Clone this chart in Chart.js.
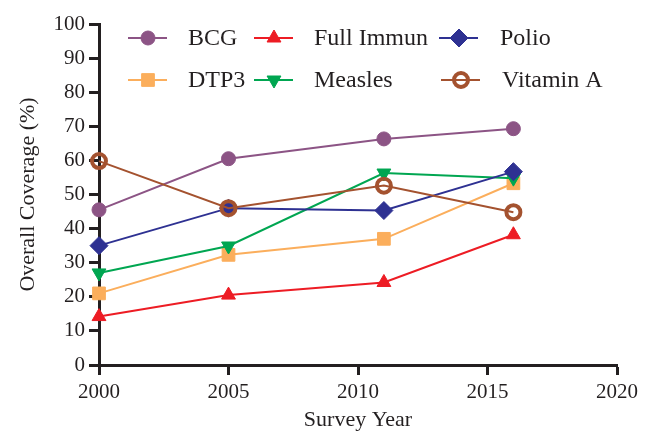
<!DOCTYPE html>
<html><head><meta charset="utf-8">
<script src="https://cdn.jsdelivr.net/npm/chart.js@4"></script>
<style>html,body{margin:0;padding:0;background:#fff}</style>
</head><body>
<canvas id="c" width="653" height="437" style="display:block;width:653px;height:437px"></canvas>
<script>
const years = [2000, 2005, 2011, 2016];
const xTicks = [2000, 2005, 2010, 2015, 2020];
const yTicks = [0, 10, 20, 30, 40, 50, 60, 70, 80, 90, 100];
const bcg = [45.5, 60.5, 66.3, 69.3];
const fullImmun = [14.2, 20.5, 24.2, 38.2];
const polio = [35.0, 46.0, 45.3, 56.7];
const dtp3 = [21.0, 32.3, 37.0, 53.3];
const measles = [27.0, 34.9, 56.3, 54.8];
const vitaminA = [59.8, 46.0, 52.6, 44.8];

const INK = '#231f20';
const FONT = "'Liberation Serif', 'Times New Roman', serif";

const series = [
  {label:'Vitamin A', data:vitaminA, color:'#a4522f', style:'circle', radius:7, rot:0, bg:'rgba(0,0,0,0)', bw:4},
  {label:'Polio', data:polio, color:'#2e3192', style:'rectRot', radius:9, rot:0},
  {label:'Measles', data:measles, color:'#00a651', style:'triangle', radius:8, rot:180},
  {label:'DTP3', data:dtp3, color:'#fbae5c', style:'rect', radius:9, rot:0},
  {label:'BCG', data:bcg, color:'#8c5485', style:'circle', radius:7, rot:0},
  {label:'Full Immun', data:fullImmun, color:'#ed1c24', style:'triangle', radius:8, rot:0}
];

const legendOrder = [['BCG','Full Immun','Polio'],['DTP3','Measles','Vitamin A']];
const legendSymX = [148, 274, 459];
const legendTextX = [188, 314, 500];
const legendRowY = [38, 80];

const legendPlugin = {
  id:'customLegend',
  afterDraw(chart){
    const ctx = chart.ctx;
    ctx.save();
    legendOrder.forEach((row, r) => {
      row.forEach((name, c) => {
        const s = series.find(d => d.label === name);
        const y = legendRowY[r];
        const sx = (name === 'Vitamin A') ? legendSymX[c] + 2 : legendSymX[c];
        const tx = (name === 'Vitamin A') ? legendTextX[c] + 2 : legendTextX[c];
        ctx.strokeStyle = s.color;
        ctx.lineWidth = 2;
        ctx.beginPath();
        ctx.moveTo(sx - 20, y);
        ctx.lineTo(sx + 19, y);
        ctx.stroke();
        ctx.fillStyle = s.bg || s.color;
        ctx.strokeStyle = s.color;
        ctx.lineWidth = s.bw || 1;
        Chart.helpers.drawPoint(ctx, {pointStyle:s.style, radius:s.radius, rotation:s.rot, borderWidth:s.bw || 1}, sx, y);
        ctx.fillStyle = INK;
        ctx.font = "24px " + FONT;
        ctx.textBaseline = 'middle';
        ctx.textAlign = 'left';
        ctx.fillText(name, tx, y + 1);
      });
    });
    ctx.restore();
  }
};

new Chart(document.getElementById('c'), {
  type:'line',
  data:{
    datasets: series.map(s => ({
      label:s.label,
      data: years.map((yr, i) => ({x:yr, y:s.data[i]})),
      borderColor:s.color,
      backgroundColor:s.color,
      borderWidth:2,
      pointStyle:s.style,
      pointRadius:s.radius,
      pointHoverRadius:s.radius,
      pointRotation:s.rot,
      pointBackgroundColor:s.bg || s.color,
      pointBorderColor:s.color,
      pointBorderWidth:s.bw || 1,
      fill:false,
      tension:0,
      clip:false
    }))
  },
  options:{
    responsive:false,
    animation:false,
    devicePixelRatio:1,
    layout:{padding:{top:24, right:36, bottom:0, left:0}},
    plugins:{legend:{display:false}, tooltip:{enabled:false}},
    scales:{
      x:{
        type:'linear', min:2000, max:2020,
        afterBuildTicks: s => { s.ticks = xTicks.map(v => ({value:v})); },
        afterFit: s => { s.height = 72; },
        ticks:{color:INK, font:{family:FONT, size:21}, padding:5, maxRotation:0, callback:v => String(v)},
        grid:{drawOnChartArea:false, drawTicks:true, tickLength:10, tickWidth:3, tickColor:INK},
        border:{display:true, color:INK, width:3},
        title:{display:true, text:'Survey Year', color:INK, font:{family:FONT, size:22}, padding:{top:0, bottom:4}}
      },
      y:{
        type:'linear', min:0, max:100,
        afterBuildTicks: s => { s.ticks = yTicks.map(v => ({value:v})); },
        afterFit: s => { s.width = 99; },
        ticks:{color:INK, font:{family:FONT, size:21}, padding:4, callback:v => String(v)},
        grid:{drawOnChartArea:false, drawTicks:true, tickLength:10, tickWidth:3, tickColor:INK},
        border:{display:true, color:INK, width:3},
        title:{display:true, text:'Overall Coverage (%)', color:INK, font:{family:FONT, size:22}, padding:{top:15, bottom:0}}
      }
    }
  },
  plugins:[legendPlugin]
});
</script>
</body></html>
